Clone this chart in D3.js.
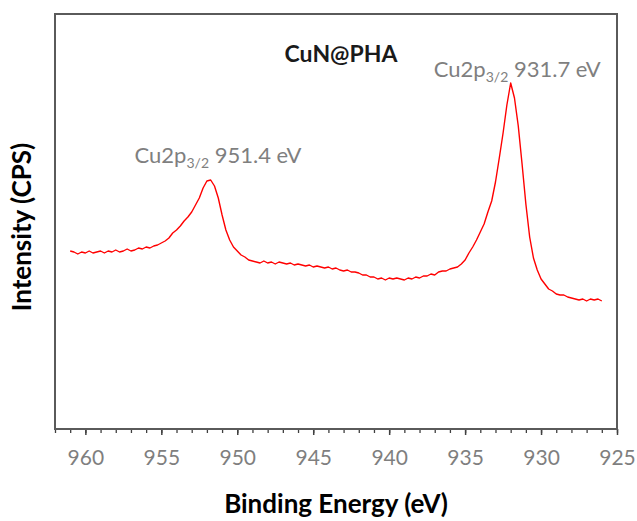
<!DOCTYPE html>
<html>
<head>
<meta charset="utf-8">
<script src="https://cdn.jsdelivr.net/npm/d3@7"></script>
<style>
  body { margin: 0; background: #fff; }
  text { font-family: Lato, "Open Sans", sans-serif; }
</style>
</head>
<body>
<div id="container"></div>
<script>
const energyStart = 961;
const energyStep = 0.25;
const intensity = [
  186, 185, 183, 185, 184, 186, 184, 185, 186, 184, 186, 185, 187, 185, 186, 188, 186, 187, 189, 188, 190,
  189, 191, 192, 194,
  196, 199, 204, 207, 211, 216, 220, 225, 232, 239,
  249, 256, 257, 251, 239, 222, 207,
  197, 190, 186, 182, 180, 177, 176,
  175, 174, 176, 174, 175, 173, 175, 174, 173, 174, 172, 173,
  172, 171, 172, 170, 171, 170, 169, 170, 168, 169, 167, 166,
  167, 165, 165, 164, 162, 162, 160, 160, 158, 159, 157, 159,
  158, 159, 158, 157, 159, 158, 160, 159, 161, 161, 163, 162,
  165, 166, 166, 168, 169, 170, 173,
  177, 184, 190, 197, 205, 213, 225, 236, 255, 279, 304, 332, 354,
  339, 311, 273, 233, 200, 179, 167, 158,
  153, 148, 146, 143, 142, 142, 140, 139, 138, 137, 138, 136, 138, 137, 138, 136
];

const majorTicks = [960, 955, 950, 945, 940, 935, 930, 925];
const peakEnergies = [951.4, 931.7];
const peakLabels = ["951.4 eV", "931.7 eV"];
const sampleName = "CuN@PHA";

const spectrum = intensity.map((v, i) => ({ e: energyStart - i * energyStep, v: v }));

const w = 637;
const h = 521;
const plotLeft = 55, plotRight = 617, plotTop = 14, plotBottom = 429;

const xScale = d3.scaleLinear().domain([962, 925]).range([plotLeft, plotRight]);
const yScale = d3.scaleLinear().domain([8, 423]).range([plotBottom, plotTop]);

const svg = d3.select("#container")
  .append("svg")
  .attr("width", w)
  .attr("height", h);

// minor ticks every 1 eV
svg.append("g")
  .attr("transform", `translate(0, ${plotBottom})`)
  .call(d3.axisBottom(xScale).tickValues(d3.range(962, 924.5, -1)).tickSize(4).tickFormat(""))
  .call(g => g.select(".domain").remove())
  .call(g => g.selectAll("line").attr("stroke", "#404040").attr("stroke-width", 1.3));

// major ticks with labels
svg.append("g")
  .attr("transform", `translate(0, ${plotBottom})`)
  .call(d3.axisBottom(xScale).tickValues(majorTicks).tickSize(6).tickFormat(d3.format("d")))
  .call(g => g.select(".domain").remove())
  .call(g => g.selectAll("line").attr("stroke", "#404040").attr("stroke-width", 1.5))
  .call(g => g.selectAll("text")
    .attr("y", 36)
    .attr("dy", null)
    .attr("fill", "#7f7f7f")
    .style("font-family", "Lato, sans-serif")
    .style("font-size", "21px"));

const line = d3.line()
  .x(d => xScale(d.e))
  .y(d => yScale(d.v));

svg.append("path")
  .datum(spectrum)
  .attr("d", line)
  .attr("fill", "none")
  .attr("stroke", "#ff0000")
  .attr("stroke-width", 1.4)
  .attr("stroke-linejoin", "round");

svg.append("rect")
  .attr("x", plotLeft)
  .attr("y", plotTop)
  .attr("width", plotRight - plotLeft)
  .attr("height", plotBottom - plotTop)
  .attr("fill", "none")
  .attr("stroke", "#5a5a5a")
  .attr("stroke-width", 2);

// peak annotations
const labelY = [163, 77];
peakEnergies.forEach((e, i) => {
  const t = svg.append("text")
    .attr("x", xScale(e) + 2)
    .attr("y", labelY[i])
    .attr("text-anchor", "middle")
    .attr("fill", "#7f7f7f")
    .style("font-size", "22px");
  t.append("tspan").text("Cu2p");
  t.append("tspan").attr("dy", 5).style("font-size", "14px").text("3/2");
  t.append("tspan").attr("dy", -5).text(" " + peakLabels[i]);
});

svg.append("text")
  .attr("x", 341)
  .attr("y", 62)
  .attr("text-anchor", "middle")
  .attr("fill", "#1a1a1a")
  .style("font-size", "23px")
  .style("font-weight", "bold")
  .text(sampleName);

svg.append("text")
  .attr("x", (plotLeft + plotRight) / 2)
  .attr("y", 513)
  .attr("text-anchor", "middle")
  .attr("fill", "#000")
  .style("font-size", "26px")
  .style("font-weight", "bold")
  .text("Binding Energy (eV)");

svg.append("text")
  .attr("transform", `translate(31, ${227}) rotate(-90)`)
  .attr("text-anchor", "middle")
  .attr("fill", "#000")
  .style("font-size", "26px")
  .style("font-weight", "bold")
  .text("Intensity (CPS)");
</script>
</body>
</html>
